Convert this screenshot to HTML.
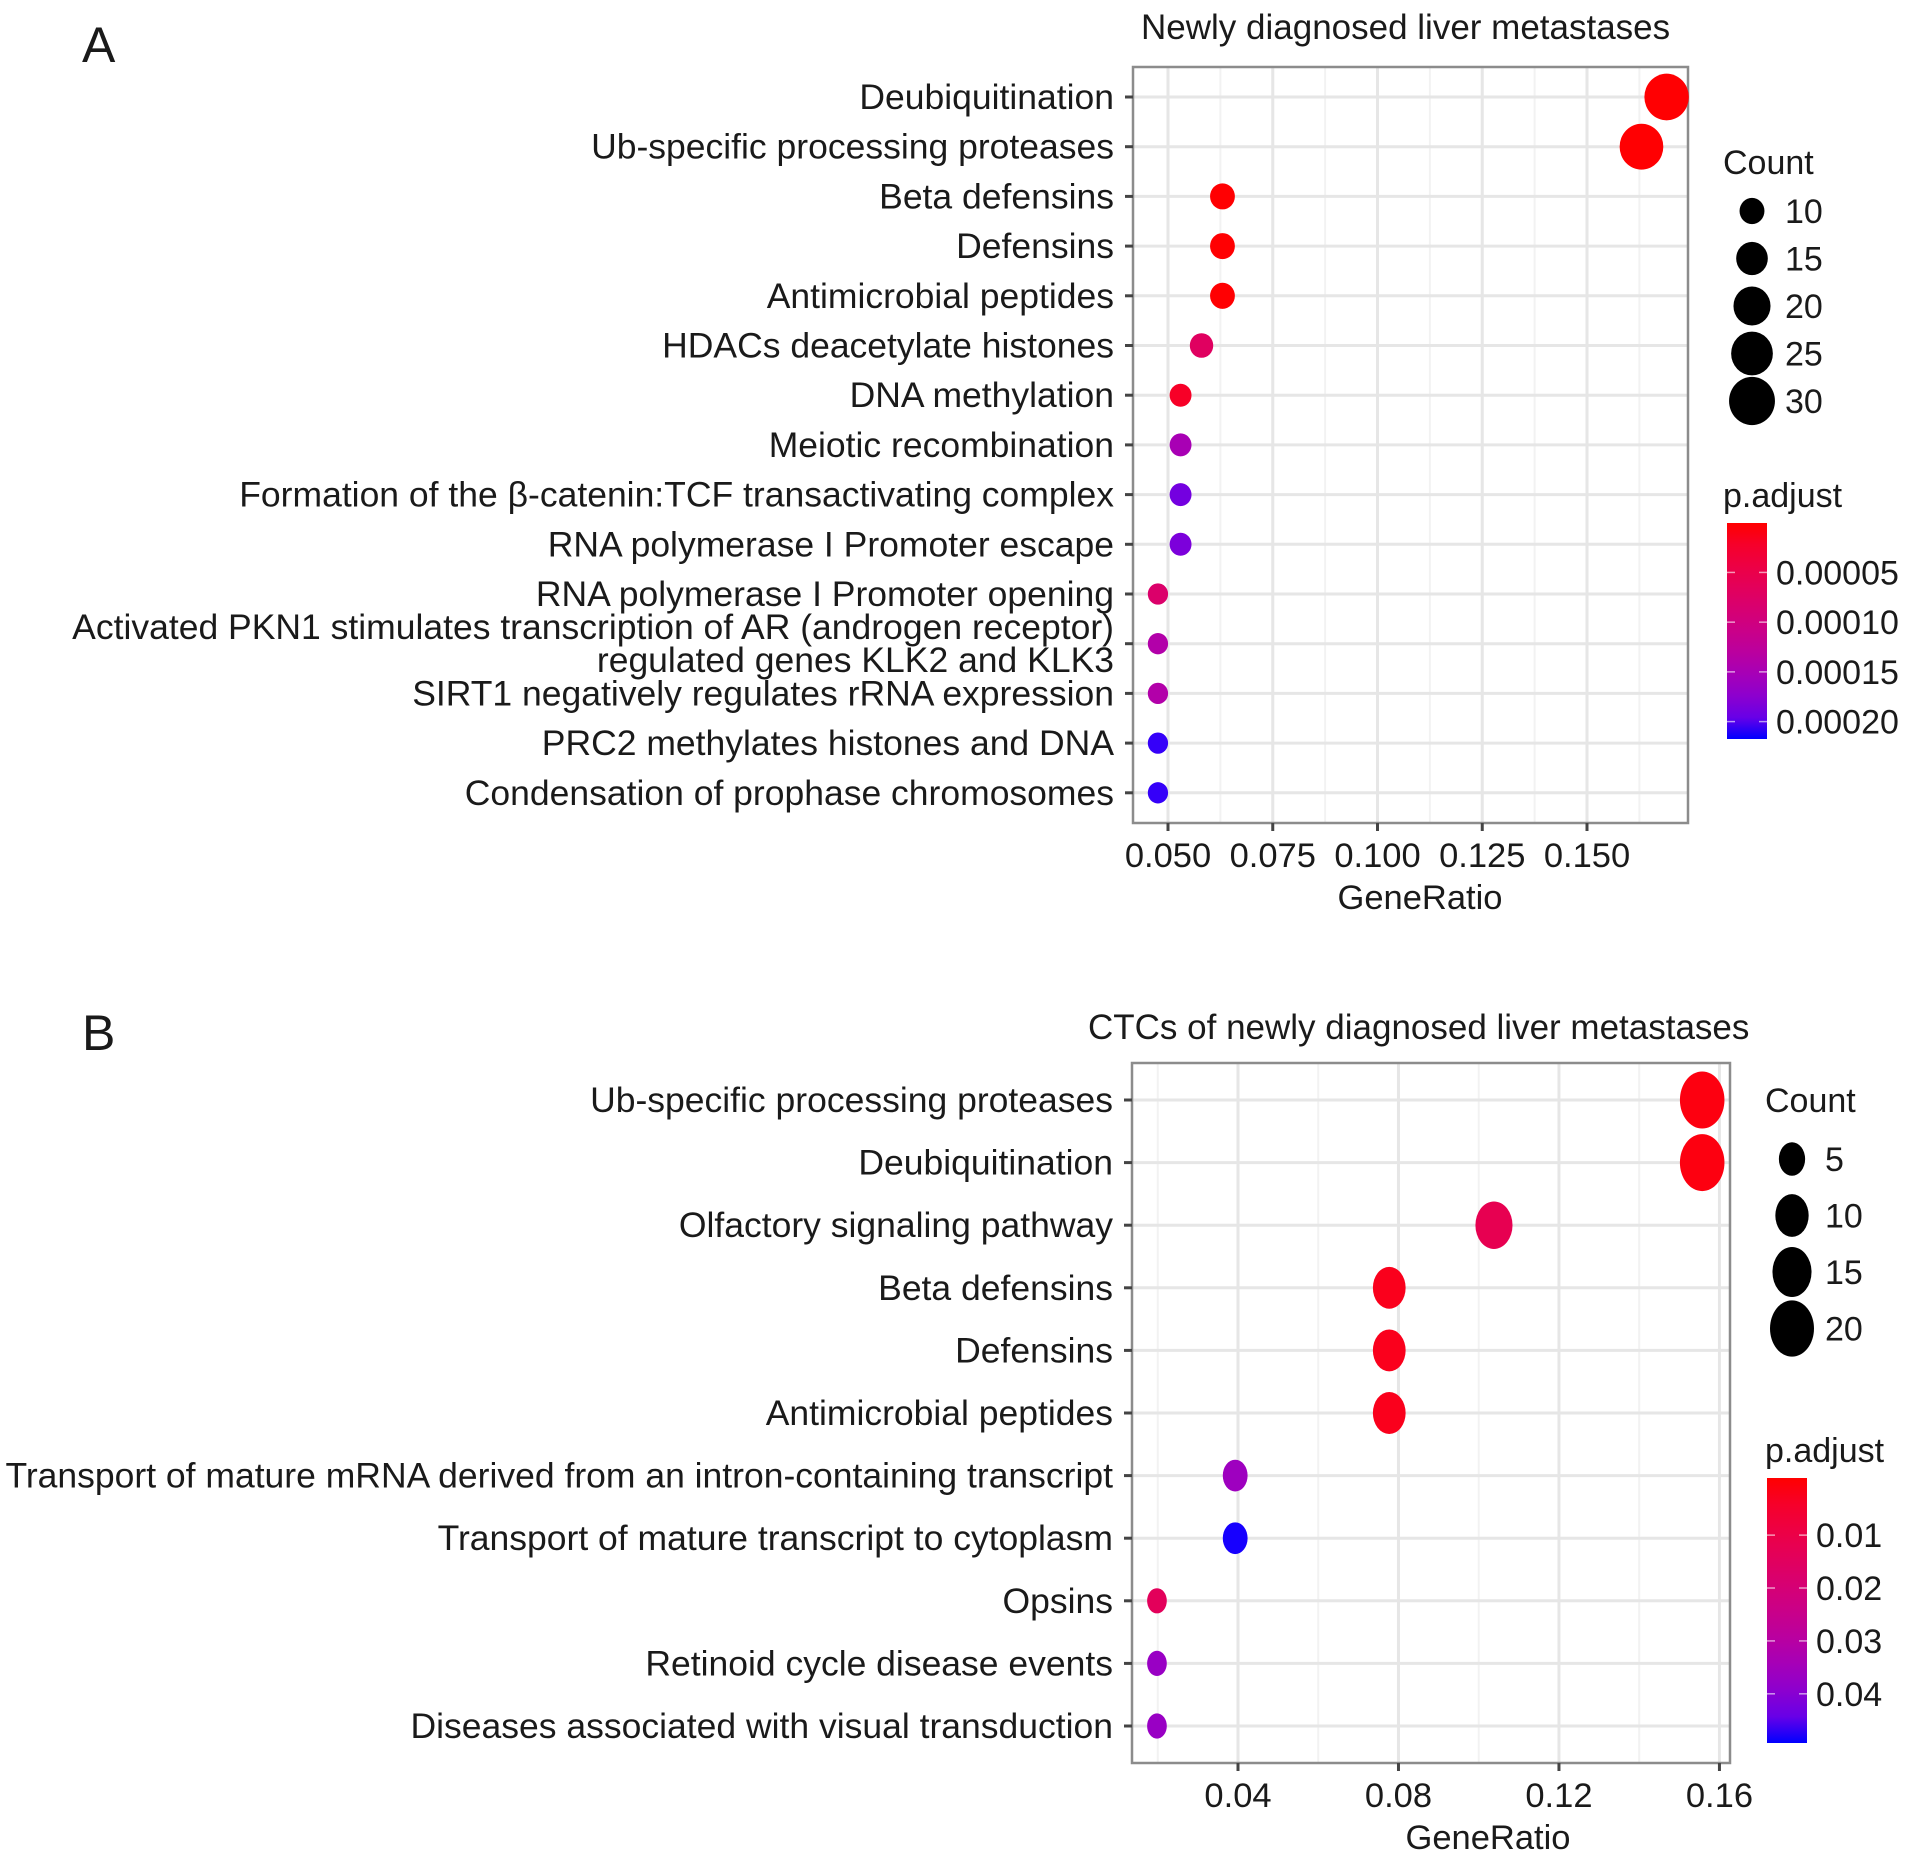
<!DOCTYPE html>
<html><head><meta charset="utf-8"><style>
html,body{margin:0;padding:0;background:#fff}
svg text{font-family:"Liberation Sans",Arial,sans-serif;fill:#1a1a1a}
</style></head><body>
<svg id="fig" width="1913" height="1860" viewBox="0 0 1913 1860" xmlns="http://www.w3.org/2000/svg">
<defs>
<linearGradient id="gradA" x1="0" y1="0" x2="0" y2="1"></linearGradient>
<linearGradient id="gradB" x1="0" y1="0" x2="0" y2="1"></linearGradient>
</defs>
<text x="82" y="62" font-size="50">A</text>
<text x="82" y="1050" font-size="50">B</text>
<g id="pa"></g>
<g id="pb"></g>
</svg>
<script>
// ---------- Panel A data ----------
const catsA = ["Deubiquitination","Ub-specific processing proteases","Beta defensins","Defensins","Antimicrobial peptides","HDACs deacetylate histones","DNA methylation","Meiotic recombination","Formation of the \u03b2-catenin:TCF transactivating complex","RNA polymerase I Promoter escape","RNA polymerase I Promoter opening","Activated PKN1 stimulates transcription of AR (androgen receptor)|regulated genes KLK2 and KLK3","SIRT1 negatively regulates rRNA expression","PRC2 methylates histones and DNA","Condensation of prophase chromosomes"];
const ratioA = [0.169,0.163,0.063,0.063,0.063,0.058,0.053,0.053,0.053,0.053,0.0476,0.0476,0.0476,0.0476,0.0476];
const countA = [32,31,12,12,12,11,10,10,10,10,9,9,9,9,9];
const padjA = [0.000001,0.000001,0.000001,0.000001,0.000001,0.00007,0.00002,0.00015,0.00019,0.000185,0.00008,0.00014,0.00014,0.000212,0.000212];
const ticksA = [0.050,0.075,0.100,0.125,0.150];
const tickLabA = ["0.050","0.075","0.100","0.125","0.150"];
const sizeBreaksA = [10,15,20,25,30];
const colorBreaksA = [0.00005,0.00010,0.00015,0.00020];
const colorLabA = ["0.00005","0.00010","0.00015","0.00020"];
const colorRangeA = [0.0000003,0.0002175];

// ---------- Panel B data ----------
const catsB = ["Ub-specific processing proteases","Deubiquitination","Olfactory signaling pathway","Beta defensins","Defensins","Antimicrobial peptides","Transport of mature mRNA derived from an intron-containing transcript","Transport of mature transcript to cytoplasm","Opsins","Retinoid cycle disease events","Diseases associated with visual transduction"];
const ratioB = [0.1557,0.1557,0.1038,0.0777,0.0777,0.0777,0.0393,0.0393,0.0198,0.0198,0.0198];
const countB = [24,24,16,12,12,12,6,6,3,3,3];
const padjB = [0.0005,0.0005,0.012,0.002,0.002,0.002,0.036,0.049,0.014,0.037,0.037];
const ticksB = [0.04,0.08,0.12,0.16];
const tickLabB = ["0.04","0.08","0.12","0.16"];
const sizeBreaksB = [5,10,15,20];
const colorBreaksB = [0.01,0.02,0.03,0.04];
const colorLabB = ["0.01","0.02","0.03","0.04"];
const colorRangeB = [-0.0008,0.0493];

const NS = "http://www.w3.org/2000/svg";
function mk(tag, attrs, parent){const e=document.createElementNS(NS,tag);for(const k in attrs)e.setAttribute(k,attrs[k]);parent.appendChild(e);return e;}

function srgbToLin(c){c/=255;return c<=0.04045?c/12.92:Math.pow((c+0.055)/1.055,2.4);}
function linToSrgb(c){c=c<=0.0031308?12.92*c:1.055*Math.pow(c,1/2.4)-0.055;return Math.max(0,Math.min(255,Math.round(c*255)));}
function rgb2lab(r,g,b){r=srgbToLin(r);g=srgbToLin(g);b=srgbToLin(b);
 let x=(r*0.4124+g*0.3576+b*0.1805)/0.95047,y=(r*0.2126+g*0.7152+b*0.0722),z=(r*0.0193+g*0.1192+b*0.9505)/1.08883;
 const f=t=>t>0.008856?Math.cbrt(t):7.787*t+16/116;
 return [116*f(y)-16,500*(f(x)-f(y)),200*(f(y)-f(z))];}
function lab2rgb(L,a,bb){let fy=(L+16)/116,fx=fy+a/500,fz=fy-bb/200;
 const fi=t=>t*t*t>0.008856?t*t*t:(t-16/116)/7.787;
 let x=fi(fx)*0.95047,y=fi(fy),z=fi(fz)*1.08883;
 let r=x*3.2406-y*1.5372-z*0.4986,g=-x*0.9689+y*1.8758+z*0.0415,b=x*0.0557-y*0.2040+z*1.0570;
 return "rgb("+linToSrgb(r)+","+linToSrgb(g)+","+linToSrgb(b)+")";}
const LR=rgb2lab(255,0,0), LB=rgb2lab(0,0,255);
function colAt(t){t=Math.max(0,Math.min(1,t));return lab2rgb(LR[0]+(LB[0]-LR[0])*t,LR[1]+(LB[1]-LR[1])*t,LR[2]+(LB[2]-LR[2])*t);}

function panel(cfg){
 const g=document.getElementById(cfg.id);
 const X=v=>cfg.x0+(v-cfg.v0)*cfg.k;
 const Y=i=>cfg.y1+i*cfg.dy;
 const colT=p=>(p-cfg.cr[0])/(cfg.cr[1]-cfg.cr[0]);
 const t=mk("text",{x:cfg.titleX,y:cfg.titleY,"font-size":35},g);
 
 
 t.textContent=cfg.title;
 const grid=mk("g",{},g);
 
 
 const step=cfg.ticks[1]-cfg.ticks[0];
 for(let i=-1;i<cfg.ticks.length;i++){
  const mv=cfg.ticks[0]+step*(i+0.5), mx=X(mv);
  if(mx>cfg.L+2&&mx<cfg.R-2){const l=mk("line",{x1:mx,x2:mx,y1:cfg.T,y2:cfg.B,stroke:"#f2f2f2","stroke-width":2},grid);
   }
 }
 cfg.ticks.forEach(v=>{const l=mk("line",{x1:X(v),x2:X(v),y1:cfg.T,y2:cfg.B,stroke:"#e6e6e6","stroke-width":3},grid);
  });
 cfg.cats.forEach((c,i)=>{const l=mk("line",{x1:cfg.L,x2:cfg.R,y1:Y(i),y2:Y(i),stroke:"#e6e6e6","stroke-width":3},grid);
  });
 const br=mk("rect",{x:cfg.L,y:cfg.T,width:cfg.R-cfg.L,height:cfg.B-cfg.T,fill:"none",stroke:"#8c8c8c","stroke-width":2.5},g);
 
 cfg.cats.forEach((c,i)=>{
  const tk=mk("line",{x1:cfg.L-8,x2:cfg.L,y1:Y(i),y2:Y(i),stroke:"#444","stroke-width":3},g);
  
  const parts=c.split("|");
  const tx=mk("text",{x:cfg.labX,"font-size":35.5,"text-anchor":"end"},g);
  
  if(parts.length===1){tx.setAttribute("y",Y(i)+12);tx.textContent=c;}
  else{parts.forEach((p,j)=>{const ts=mk("tspan",{x:cfg.labX,y:Y(i)+12+(j-0.5)*33},tx);ts.textContent=p;});}
 });
 cfg.ticks.forEach((v,i)=>{
  const tk=mk("line",{x1:X(v),x2:X(v),y1:cfg.B,y2:cfg.B+8,stroke:"#444","stroke-width":3},g);
  
  const tl=mk("text",{x:X(v),y:cfg.B+44,"font-size":34.5,"text-anchor":"middle"},g);
  
  tl.textContent=cfg.tickLab[i];
 });
 const xt=mk("text",{x:cfg.xtX,y:cfg.xtY,"font-size":34.5,"text-anchor":"middle"},g);
 
 xt.textContent="GeneRatio";
 cfg.ratio.forEach((v,i)=>{
  const rx=cfg.rad(cfg.count[i]);
  const p=mk("ellipse",{cx:X(v),cy:Y(i),rx:rx,ry:rx*cfg.asp,fill:colAt(colT(cfg.padj[i]))},g);
  
  
 });
 const ct=mk("text",{x:cfg.lgX,y:cfg.cntY+12,"font-size":34},g);
 
 ct.textContent="Count";
 cfg.sizeBreaks.forEach((s,i)=>{
  const rx=cfg.rad(s)+1.5, cy=cfg.sz0+i*cfg.szDy;
  const d=mk("ellipse",{cx:cfg.dotX,cy:cy,rx:rx,ry:rx*cfg.asp,fill:"#000"},g);
  
  const lt=mk("text",{x:cfg.dotX+33,y:cy+12,"font-size":34},g);
  
  lt.textContent=String(s);
 });
 const pt=mk("text",{x:cfg.lgX,y:cfg.padjY+12,"font-size":34},g);
 
 pt.textContent="p.adjust";
 const gr=document.getElementById(cfg.grad);
 for(let s=0;s<=10;s++){mk("stop",{offset:(s*10)+"%","stop-color":colAt(s/10)},gr);}
 const cb=mk("rect",{x:cfg.cbX,y:cfg.cbT,width:40,height:cfg.cbB-cfg.cbT,fill:"url(#"+cfg.grad+")"},g);
 
 const CY=p=>cfg.cbT+colT(p)*(cfg.cbB-cfg.cbT);
 cfg.colorBreaks.forEach((p,i)=>{
  const y=CY(p);
  const a=mk("line",{x1:cfg.cbX,x2:cfg.cbX+8,y1:y,y2:y,stroke:"#fff","stroke-width":1.5,opacity:0.6},g);
  
  const b=mk("line",{x1:cfg.cbX+32,x2:cfg.cbX+40,y1:y,y2:y,stroke:"#fff","stroke-width":1.5,opacity:0.6},g);
  
  const lt=mk("text",{x:cfg.cbX+49,y:y+12,"font-size":34},g);
  
  lt.textContent=cfg.colorLab[i];
 });
}

panel({id:"pa",grad:"gradA",title:"Newly diagnosed liver metastases",titleX:1141,titleY:39,
 cats:catsA,ratio:ratioA,count:countA,padj:padjA,ticks:ticksA,tickLab:tickLabA,
 sizeBreaks:sizeBreaksA,colorBreaks:colorBreaksA,colorLab:colorLabA,cr:colorRangeA,
 x0:1168,v0:0.05,k:4190,y1:97,dy:49.7,L:1133,R:1688,T:67,B:823,labX:1114,
 xtX:1420,xtY:909,rad:c=>Math.sqrt(17*c-50),asp:1.05,
 lgX:1723,cntY:162,dotX:1752,sz0:211,szDy:47.5,padjY:495,cbX:1727,cbT:523,cbB:739});

panel({id:"pb",grad:"gradB",title:"CTCs of newly diagnosed liver metastases",titleX:1088,titleY:1039,
 cats:catsB,ratio:ratioB,count:countB,padj:padjB,ticks:ticksB,tickLab:tickLabB,
 sizeBreaks:sizeBreaksB,colorBreaks:colorBreaksB,colorLab:colorLabB,cr:colorRangeB,
 x0:1238,v0:0.04,k:4012,y1:1100,dy:62.6,L:1132,R:1730,T:1063,B:1763,labX:1113,
 xtX:1488,xtY:1849,rad:c=>Math.sqrt(19*c+40),asp:1.28,
 lgX:1765,cntY:1100,dotX:1792,sz0:1159,szDy:56.5,padjY:1450,cbX:1767,cbT:1478,cbB:1743});
</script>
</body></html>
